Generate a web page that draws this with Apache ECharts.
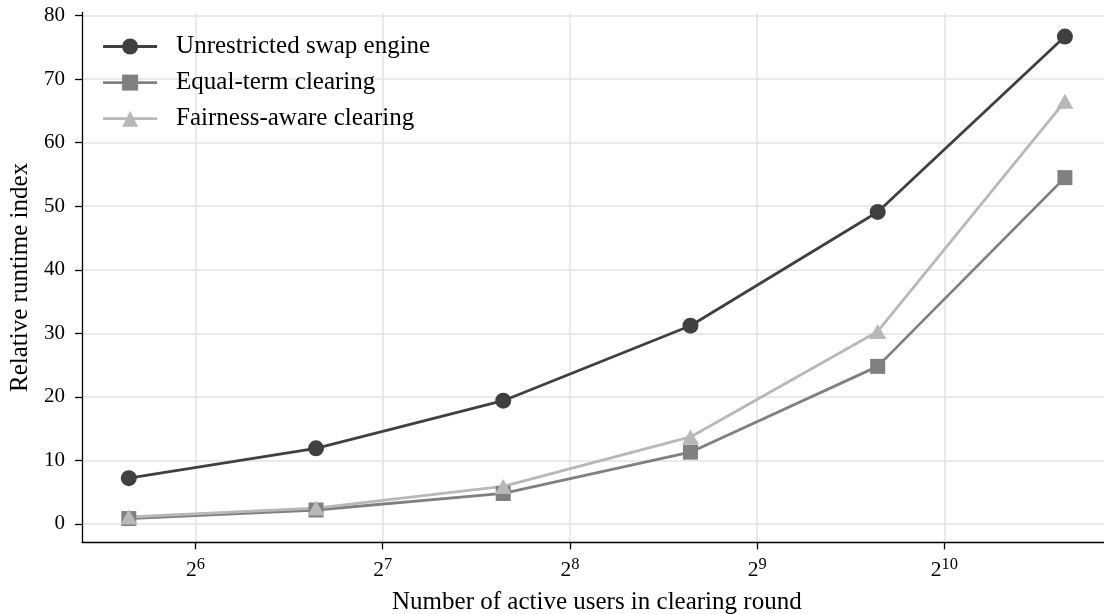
<!DOCTYPE html>
<html>
<head>
<meta charset="utf-8">
<title>Relative runtime vs. active users</title>
<script src="https://cdn.jsdelivr.net/npm/echarts@6/dist/echarts.min.js"></script>
<style>
  html, body { margin: 0; padding: 0; background: #ffffff; }
  #chart { width: 1104px; height: 614px; }
</style>
</head>
<body>
<div id="chart"></div>
<script>
// Number of active users in a clearing round (log2 axis)
const users = [50, 100, 200, 400, 800, 1600];

// Relative runtime index per clearing strategy
const unrestricted = [7.2, 11.9, 19.4, 31.2, 49.1, 76.7];
const equalTerm = [0.85, 2.2, 4.8, 11.3, 24.8, 54.5];
const fairnessAware = [1.1, 2.5, 5.9, 13.7, 30.3, 66.5];

const seriesNames = ['Unrestricted swap engine', 'Equal-term clearing', 'Fairness-aware clearing'];

// Tick positions
const xTicks = [64, 128, 256, 512, 1024];
const yTicks = [0, 10, 20, 30, 40, 50, 60, 70, 80];

const FONT = 'Liberation Serif';
const LINE_W = 2.8;
const pairs = ys => users.map((u, i) => [u, ys[i]]);

const chart = echarts.init(document.getElementById('chart'), null, { renderer: 'canvas' });

chart.setOption({
  animation: false,
  backgroundColor: '#ffffff',
  grid: {
    left: 82, right: -7.7, top: 12.4, bottom: 71.6,
    containLabel: false,
    outerBoundsMode: 'none'
  },
  legend: {
    orient: 'vertical',
    left: 96.7,
    top: 29,
    padding: 5,
    itemWidth: 54,
    itemHeight: 20,
    itemGap: 11.1,
    data: seriesNames,
    lineStyle: { width: LINE_W },
    textStyle: { fontFamily: FONT, fontSize: 25, color: '#000', padding: [0, 0, 0, 14] }
  },
  xAxis: {
    type: 'log',
    logBase: 2,
    // quarter-octave padding on each side of the data
    min: users[0] / Math.pow(2, 0.25),
    max: users[users.length - 1] * Math.pow(2, 0.25),
    name: 'Number of active users in clearing round',
    nameLocation: 'middle',
    nameGap: 48,
    nameTextStyle: { fontFamily: FONT, fontSize: 25, color: '#000' },
    axisLine: { show: true, onZero: false, lineStyle: { color: '#000', width: 1.3 } },
    axisTick: { show: true, length: 7, lineStyle: { color: '#000', width: 1.3 }, customValues: xTicks },
    axisLabel: {
      customValues: xTicks,
      margin: 14,
      fontFamily: FONT,
      fontSize: 21.5,
      lineHeight: 28,
      color: '#000',
      formatter: v => '2{sup|' + Math.round(Math.log2(v)) + '}',
      rich: { sup: { fontFamily: FONT, fontSize: 16.5, lineHeight: 16, verticalAlign: 'top', color: '#000' } }
    },
    splitLine: { show: true, lineStyle: { color: '#e3e3e3', width: 1.5 } },
    minorTick: { show: false }
  },
  yAxis: {
    type: 'value',
    min: -2.9,
    max: 80.5,
    name: 'Relative runtime index',
    nameLocation: 'middle',
    nameGap: 45,
    nameRotate: 90,
    nameTextStyle: { fontFamily: FONT, fontSize: 25, color: '#000' },
    axisLine: { show: true, onZero: false, lineStyle: { color: '#000', width: 1.3 } },
    axisTick: { show: true, length: 7, lineStyle: { color: '#000', width: 1.3 }, customValues: yTicks },
    axisLabel: { customValues: yTicks, margin: 17, fontFamily: FONT, fontSize: 21, color: '#000' },
    splitLine: { show: true, lineStyle: { color: '#e3e3e3', width: 1.5 } }
  },
  series: [
    {
      name: seriesNames[0], type: 'line', data: pairs(unrestricted),
      symbol: 'circle', symbolSize: 16,
      lineStyle: { color: '#404040', width: LINE_W },
      itemStyle: { color: '#404040' }
    },
    {
      name: seriesNames[1], type: 'line', data: pairs(equalTerm),
      symbol: 'rect', symbolSize: 15,
      lineStyle: { color: '#808080', width: LINE_W },
      itemStyle: { color: '#808080' }
    },
    {
      name: seriesNames[2], type: 'line', data: pairs(fairnessAware),
      symbol: 'triangle', symbolSize: [17, 15],
      lineStyle: { color: '#b8b8b8', width: LINE_W },
      itemStyle: { color: '#b8b8b8' }
    }
  ]
});
</script>
</body>
</html>
